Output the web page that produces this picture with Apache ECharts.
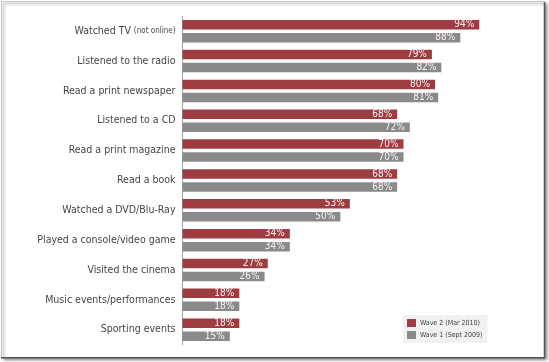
<!DOCTYPE html>
<html>
<head>
<meta charset="utf-8">
<script src="https://cdn.jsdelivr.net/npm/echarts@6/dist/echarts.min.js"></script>
<style>html,body{margin:0;padding:0;background:#fff;}#c{width:549px;height:362px;}</style>
</head>
<body>
<div id="c"></div>
<script>
const categories = ["Watched TV (not online)", "Listened to the radio", "Read a print newspaper", "Listened to a CD", "Read a print magazine", "Read a book", "Watched a DVD/Blu-Ray", "Played a console/video game", "Visited the cinema", "Music events/performances", "Sporting events"];
const wave2 = [94, 79, 80, 68, 70, 68, 53, 34, 27, 18, 18];
const wave1 = [88, 82, 81, 72, 70, 68, 50, 34, 26, 18, 15];
const seriesNames = ["Wave 2 (Mar 2010)", "Wave 1 (Sept 2009)"];

const FONT = "'Liberation Sans Narrow', 'DejaVu Sans Condensed', sans-serif";
const chart = echarts.init(document.getElementById('c'), null, {renderer: 'canvas'});

function catLabel(v) {
  const m = v.match(/^(.*?)\s*(\(.*\))$/);
  if (m) return m[1] + ' {s|' + m[2] + '}';
  return v;
}
const valLabel = {
  show: true, position: 'insideRight', distance: 5,
  formatter: '{c}%', color: '#fbf3f3', fontFamily: FONT, fontSize: 10
};

chart.setOption({
  animation: false,
  graphic: [
    {type: 'rect', z: -10, shape: {x: 1.5, y: 1.5, width: 543, height: 356},
     style: {fill: '#fff', stroke: '#c8c8c8', lineWidth: 1,
             shadowBlur: 3, shadowOffsetX: 2, shadowOffsetY: 2, shadowColor: 'rgba(0,0,0,0.45)'}},
    {type: 'line', z: -9, shape: {x1: 544.5, y1: 2, x2: 544.5, y2: 358}, style: {stroke: '#555', lineWidth: 1.5}},
    {type: 'line', z: -9, shape: {x1: 1, y1: 357.8, x2: 545, y2: 357.8}, style: {stroke: '#555', lineWidth: 1.5}}
  ],
  grid: {left: 182.5, top: 16.3, width: 315.7, height: 328.3, containLabel: false},
  legend: {
    data: seriesNames, orient: 'vertical', left: 403, top: 315,
    backgroundColor: '#f1f1f1', padding: [4, 5, 4, 4], itemGap: 4,
    itemWidth: 9, itemHeight: 8, icon: 'rect',
    textStyle: {fontFamily: FONT, fontSize: 7, color: '#444', padding: [0, 0, 0, -1]}
  },
  xAxis: {type: 'value', min: 0, max: 100, show: false},
  yAxis: {
    type: 'category', data: categories, inverse: true,
    axisLine: {show: true, lineStyle: {color: '#a0a0a0', width: 1}},
    axisTick: {show: false}, splitLine: {show: false},
    axisLabel: {
      margin: 7, color: '#444', fontFamily: FONT, fontSize: 10.5,
      formatter: catLabel,
      rich: {s: {fontFamily: FONT, fontSize: 8, color: '#444'}}
    }
  },
  series: [
    {name: seriesNames[0], type: 'bar', data: wave2, barWidth: 9.5, barGap: '37%',
     itemStyle: {color: '#9d3c41'}, label: valLabel},
    {name: seriesNames[1], type: 'bar', data: wave1, barWidth: 9.5, barGap: '37%',
     itemStyle: {color: '#8a8a8a'}, label: valLabel}
  ]
});
</script>
</body>
</html>
